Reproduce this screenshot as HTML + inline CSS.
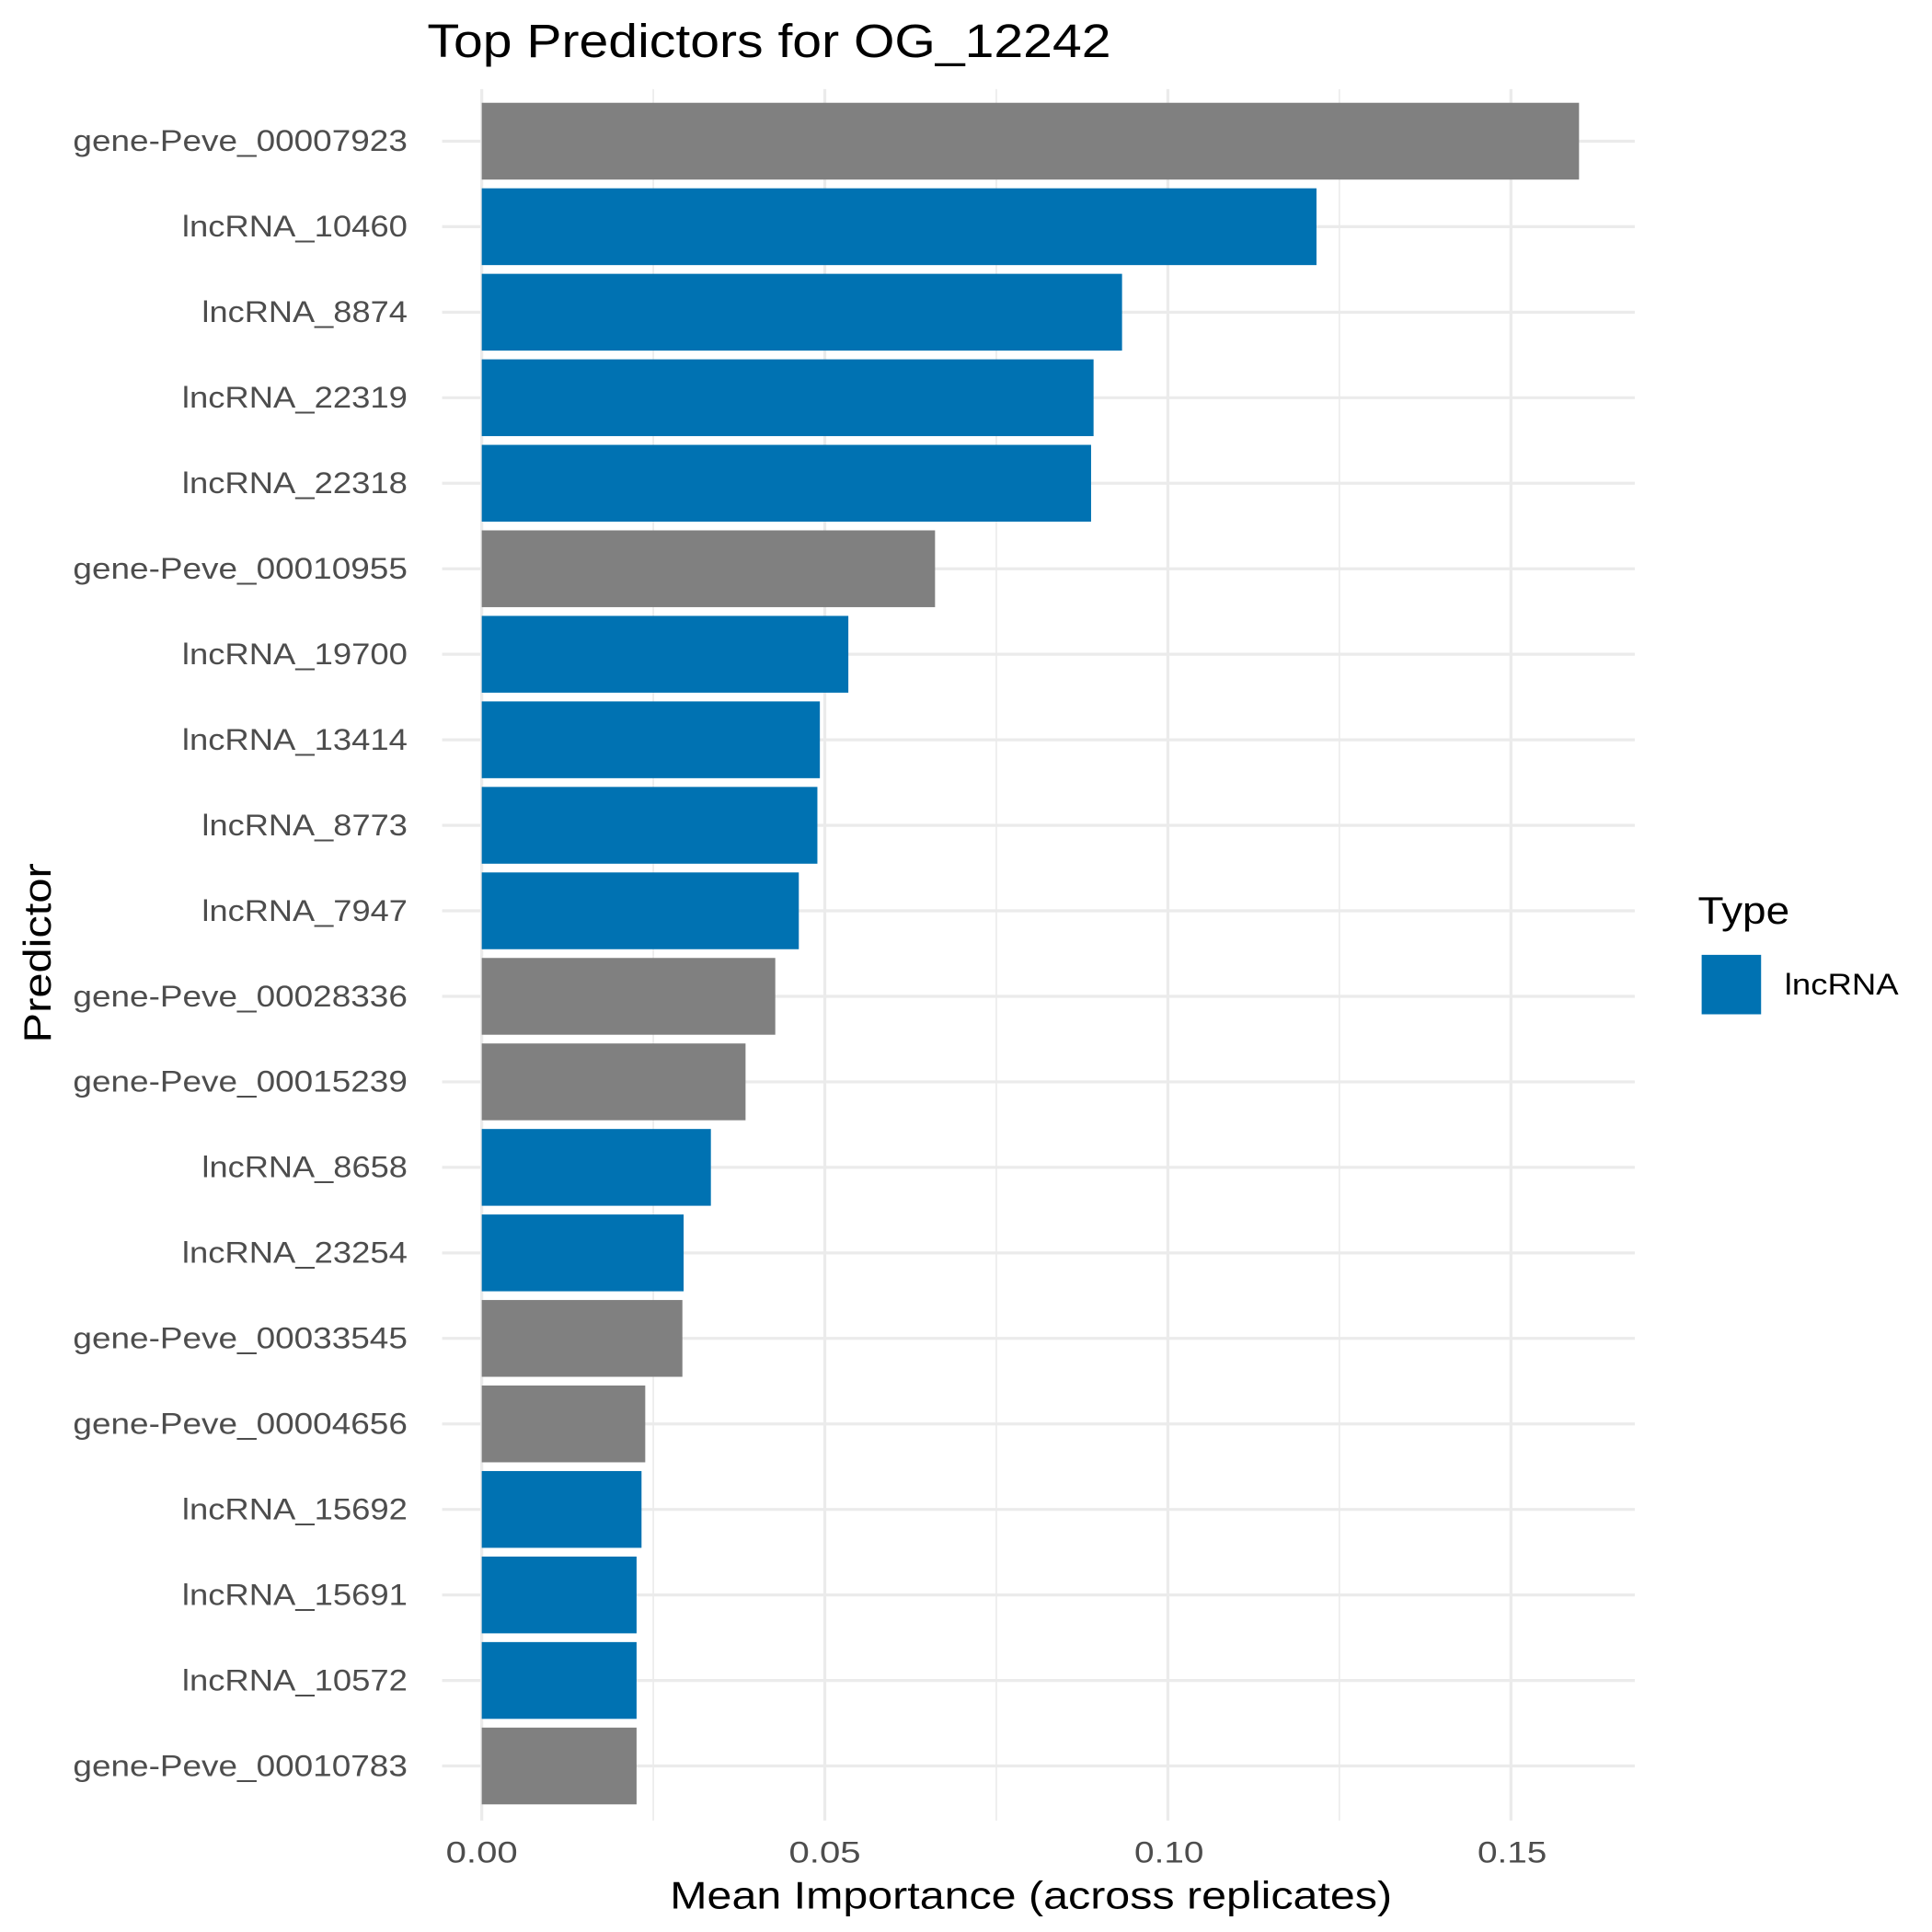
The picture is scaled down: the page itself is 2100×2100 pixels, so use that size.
<!DOCTYPE html>
<html><head><style>html,body{margin:0;padding:0;background:#fff}svg{display:block}</style></head>
<body>
<svg width="2100" height="2100" viewBox="0 0 1560 1560" xmlns="http://www.w3.org/2000/svg" font-family="'Liberation Sans', 'DejaVu Sans', sans-serif">
<rect width="1560" height="1560" fill="#fff"/>
<g stroke="#EBEBEB">
<line x1="527.5" y1="72" x2="527.5" y2="1470" stroke-width="1.2"/>
<line x1="804.5" y1="72" x2="804.5" y2="1470" stroke-width="1.2"/>
<line x1="1081.5" y1="72" x2="1081.5" y2="1470" stroke-width="1.2"/>
<line x1="389" y1="72" x2="389" y2="1470" stroke-width="2.4"/>
<line x1="666" y1="72" x2="666" y2="1470" stroke-width="2.4"/>
<line x1="943" y1="72" x2="943" y2="1470" stroke-width="2.4"/>
<line x1="1220" y1="72" x2="1220" y2="1470" stroke-width="2.4"/>
<line x1="357" x2="1320" y1="114" y2="114" stroke-width="2.4"/>
<line x1="357" x2="1320" y1="183.05" y2="183.05" stroke-width="2.4"/>
<line x1="357" x2="1320" y1="252.1" y2="252.1" stroke-width="2.4"/>
<line x1="357" x2="1320" y1="321.15" y2="321.15" stroke-width="2.4"/>
<line x1="357" x2="1320" y1="390.2" y2="390.2" stroke-width="2.4"/>
<line x1="357" x2="1320" y1="459.25" y2="459.25" stroke-width="2.4"/>
<line x1="357" x2="1320" y1="528.3" y2="528.3" stroke-width="2.4"/>
<line x1="357" x2="1320" y1="597.35" y2="597.35" stroke-width="2.4"/>
<line x1="357" x2="1320" y1="666.4" y2="666.4" stroke-width="2.4"/>
<line x1="357" x2="1320" y1="735.45" y2="735.45" stroke-width="2.4"/>
<line x1="357" x2="1320" y1="804.5" y2="804.5" stroke-width="2.4"/>
<line x1="357" x2="1320" y1="873.55" y2="873.55" stroke-width="2.4"/>
<line x1="357" x2="1320" y1="942.6" y2="942.6" stroke-width="2.4"/>
<line x1="357" x2="1320" y1="1011.65" y2="1011.65" stroke-width="2.4"/>
<line x1="357" x2="1320" y1="1080.7" y2="1080.7" stroke-width="2.4"/>
<line x1="357" x2="1320" y1="1149.75" y2="1149.75" stroke-width="2.4"/>
<line x1="357" x2="1320" y1="1218.8" y2="1218.8" stroke-width="2.4"/>
<line x1="357" x2="1320" y1="1287.85" y2="1287.85" stroke-width="2.4"/>
<line x1="357" x2="1320" y1="1356.9" y2="1356.9" stroke-width="2.4"/>
<line x1="357" x2="1320" y1="1425.95" y2="1425.95" stroke-width="2.4"/>
</g>
<g>
<rect x="389" y="83" width="886" height="62" fill="#808080"/>
<rect x="389" y="152.05" width="674" height="62" fill="#0072B2"/>
<rect x="389" y="221.1" width="517" height="62" fill="#0072B2"/>
<rect x="389" y="290.15" width="494" height="62" fill="#0072B2"/>
<rect x="389" y="359.2" width="492" height="62" fill="#0072B2"/>
<rect x="389" y="428.25" width="366" height="62" fill="#808080"/>
<rect x="389" y="497.3" width="296" height="62" fill="#0072B2"/>
<rect x="389" y="566.35" width="273" height="62" fill="#0072B2"/>
<rect x="389" y="635.4" width="271" height="62" fill="#0072B2"/>
<rect x="389" y="704.45" width="256" height="62" fill="#0072B2"/>
<rect x="389" y="773.5" width="237" height="62" fill="#808080"/>
<rect x="389" y="842.55" width="213" height="62" fill="#808080"/>
<rect x="389" y="911.6" width="185" height="62" fill="#0072B2"/>
<rect x="389" y="980.65" width="163" height="62" fill="#0072B2"/>
<rect x="389" y="1049.7" width="162" height="62" fill="#808080"/>
<rect x="389" y="1118.75" width="132" height="62" fill="#808080"/>
<rect x="389" y="1187.8" width="129" height="62" fill="#0072B2"/>
<rect x="389" y="1256.85" width="125" height="62" fill="#0072B2"/>
<rect x="389" y="1325.9" width="125" height="62" fill="#0072B2"/>
<rect x="389" y="1394.95" width="125" height="62" fill="#808080"/>
</g>
<g font-size="24" fill="#4D4D4D" text-anchor="end" lengthAdjust="spacingAndGlyphs">
<text x="329" y="122" textLength="270" lengthAdjust="spacingAndGlyphs">gene-Peve_00007923</text>
<text x="329" y="191.05" textLength="182" lengthAdjust="spacingAndGlyphs">lncRNA_10460</text>
<text x="329" y="260.1" textLength="166" lengthAdjust="spacingAndGlyphs">lncRNA_8874</text>
<text x="329" y="329.15" textLength="182" lengthAdjust="spacingAndGlyphs">lncRNA_22319</text>
<text x="329" y="398.2" textLength="182" lengthAdjust="spacingAndGlyphs">lncRNA_22318</text>
<text x="329" y="467.25" textLength="270" lengthAdjust="spacingAndGlyphs">gene-Peve_00010955</text>
<text x="329" y="536.3" textLength="182" lengthAdjust="spacingAndGlyphs">lncRNA_19700</text>
<text x="329" y="605.35" textLength="182" lengthAdjust="spacingAndGlyphs">lncRNA_13414</text>
<text x="329" y="674.4" textLength="166" lengthAdjust="spacingAndGlyphs">lncRNA_8773</text>
<text x="329" y="743.45" textLength="166" lengthAdjust="spacingAndGlyphs">lncRNA_7947</text>
<text x="329" y="812.5" textLength="270" lengthAdjust="spacingAndGlyphs">gene-Peve_00028336</text>
<text x="329" y="881.55" textLength="270" lengthAdjust="spacingAndGlyphs">gene-Peve_00015239</text>
<text x="329" y="950.6" textLength="166" lengthAdjust="spacingAndGlyphs">lncRNA_8658</text>
<text x="329" y="1019.65" textLength="182" lengthAdjust="spacingAndGlyphs">lncRNA_23254</text>
<text x="329" y="1088.7" textLength="270" lengthAdjust="spacingAndGlyphs">gene-Peve_00033545</text>
<text x="329" y="1157.75" textLength="270" lengthAdjust="spacingAndGlyphs">gene-Peve_00004656</text>
<text x="329" y="1226.8" textLength="182" lengthAdjust="spacingAndGlyphs">lncRNA_15692</text>
<text x="329" y="1295.85" textLength="182" lengthAdjust="spacingAndGlyphs">lncRNA_15691</text>
<text x="329" y="1364.9" textLength="182" lengthAdjust="spacingAndGlyphs">lncRNA_10572</text>
<text x="329" y="1433.95" textLength="270" lengthAdjust="spacingAndGlyphs">gene-Peve_00010783</text>
</g>
<text x="345" y="46" font-size="38" fill="#000" textLength="552" lengthAdjust="spacingAndGlyphs">Top Predictors for OG_12242</text>
<g font-size="24" fill="#4D4D4D">
<text x="360" y="1504" textLength="58" lengthAdjust="spacingAndGlyphs">0.00</text>
<text x="637" y="1504" textLength="58" lengthAdjust="spacingAndGlyphs">0.05</text>
<text x="916" y="1504" textLength="56" lengthAdjust="spacingAndGlyphs">0.10</text>
<text x="1193" y="1504" textLength="56" lengthAdjust="spacingAndGlyphs">0.15</text>
</g>
<text x="541" y="1541" font-size="31" fill="#000" textLength="583" lengthAdjust="spacingAndGlyphs">Mean Importance (across replicates)</text>
<text transform="translate(41,842) rotate(-90)" font-size="31" fill="#000" textLength="145" lengthAdjust="spacingAndGlyphs">Predictor</text>
<text x="1371" y="746" font-size="31" fill="#000" textLength="74" lengthAdjust="spacingAndGlyphs">Type</text>
<rect x="1374" y="771" width="48" height="48" fill="#0072B2"/>
<text x="1441" y="803" font-size="24" fill="#000" textLength="92" lengthAdjust="spacingAndGlyphs">lncRNA</text>
</svg>
</body></html>
